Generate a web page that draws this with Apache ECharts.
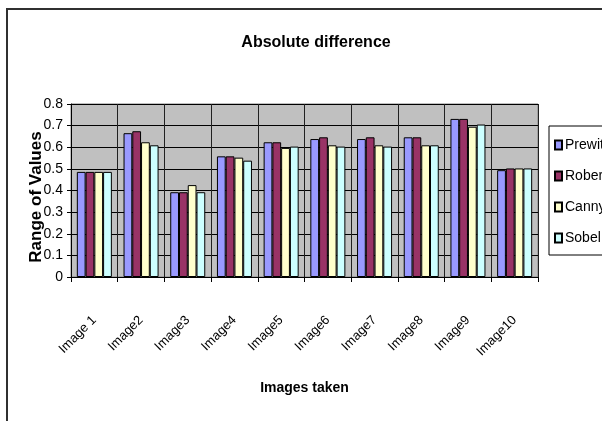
<!DOCTYPE html>
<html>
<head>
<meta charset="utf-8">
<script src="https://cdn.jsdelivr.net/npm/echarts@6/dist/echarts.min.js"></script>
<style>
  html, body { margin: 0; padding: 0; background: #ffffff; }
  #chart { width: 602px; height: 421px; }
</style>
</head>
<body>
<div id="chart"></div>
<script>
// Absolute difference per edge detector for ten test images
const categories = ['Image 1', 'Image2', 'Image3', 'Image4', 'Image5',
                    'Image6', 'Image7', 'Image8', 'Image9', 'Image10'];
const prewitt = [0.486, 0.665, 0.392, 0.558, 0.623, 0.638, 0.638, 0.646, 0.731, 0.494];
const robert  = [0.486, 0.674, 0.392, 0.558, 0.623, 0.646, 0.646, 0.646, 0.731, 0.502];
const canny   = [0.486, 0.623, 0.425, 0.552, 0.597, 0.609, 0.609, 0.609, 0.695, 0.502];
const sobel   = [0.486, 0.609, 0.392, 0.538, 0.603, 0.603, 0.603, 0.609, 0.705, 0.502];
const yTicks = { min: 0, max: 0.8, step: 0.1 };

const FONT = '"Liberation Sans", Arial, sans-serif';

function barSeries(name, data, color) {
  return {
    name: name,
    type: 'bar',
    data: data,
    barGap: '0%',
    barCategoryGap: '25%',
    itemStyle: { color: color, borderColor: '#000000', borderWidth: 1 }
  };
}

const chart = echarts.init(document.getElementById('chart'), null, { renderer: 'canvas' });
chart.setOption({
  backgroundColor: '#ffffff',
  animation: false,
  title: {
    text: 'Absolute difference',
    left: 311,
    top: 30,
    textAlign: 'center',
    textStyle: { fontFamily: FONT, fontSize: 16, fontWeight: 'bold', color: '#000000' }
  },
  graphic: [{
    type: 'rect',
    shape: { x: 7, y: 9, width: 700, height: 500 },
    style: { fill: 'none', stroke: '#303030', lineWidth: 2 },
    silent: true,
    z: -1
  }],
  legend: {
    orient: 'vertical',
    left: 549,
    top: 126,
    padding: [12, 6, 10, 5],
    itemGap: 17,
    itemWidth: 7,
    itemHeight: 9,
    backgroundColor: '#ffffff',
    borderColor: '#000000',
    borderWidth: 1,
    borderRadius: 0,
    icon: 'rect',
    textStyle: { fontFamily: FONT, fontSize: 14, color: '#000000', padding: [0, 0, 0, -2] },
    data: ['Prewitt', 'Robert', 'Canny', 'Sobel']
  },
  grid: {
    left: 71, top: 104, right: 64, bottom: 144,
    show: true,
    backgroundColor: '#c0c0c0',
    borderColor: '#808080',
    borderWidth: 1
  },
  xAxis: {
    type: 'category',
    data: categories,
    name: 'Images taken',
    nameLocation: 'middle',
    nameGap: 104,
    nameMoveOverlap: false,
    nameTextStyle: { fontFamily: FONT, fontSize: 14, fontWeight: 'bold', color: '#000000' },
    axisLine: { lineStyle: { color: '#000000', width: 1 } },
    axisTick: { show: true, alignWithLabel: false, length: 5, lineStyle: { color: '#000000' } },
    splitLine: { show: true, lineStyle: { color: '#202020', width: 1 } },
    axisLabel: {
      rotate: 45,
      margin: 41,
      interval: 0,
      fontFamily: FONT,
      fontSize: 13,
      color: '#000000'
    }
  },
  yAxis: {
    type: 'value',
    min: yTicks.min,
    max: yTicks.max,
    interval: yTicks.step,
    name: 'Range of Values',
    nameLocation: 'middle',
    nameGap: 26,
    nameMoveOverlap: false,
    nameTextStyle: {
      fontFamily: FONT, fontSize: 17, fontWeight: 'bold', color: '#000000',
      padding: [0, 13, 0, 0]
    },
    axisLine: { show: true, lineStyle: { color: '#000000', width: 1 } },
    axisTick: { show: true, length: 4, lineStyle: { color: '#000000' } },
    splitLine: { show: true, lineStyle: { color: '#000000', width: 1 } },
    axisLabel: { margin: 8, fontFamily: FONT, fontSize: 14, color: '#000000' }
  },
  series: [
    barSeries('Prewitt', prewitt, '#9999ff'),
    barSeries('Robert', robert, '#993366'),
    barSeries('Canny', canny, '#ffffcc'),
    barSeries('Sobel', sobel, '#ccffff')
  ]
});
</script>
</body>
</html>
